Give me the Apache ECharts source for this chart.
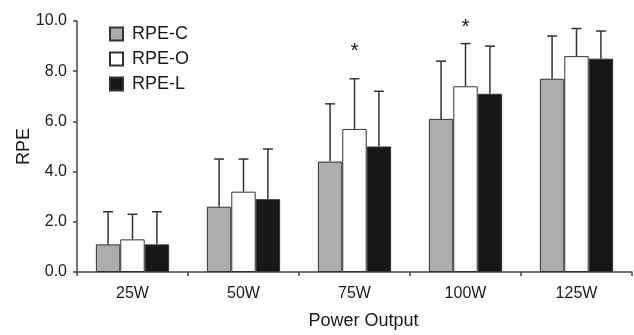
<!DOCTYPE html>
<html>
<head>
<meta charset="utf-8">
<script src="https://cdn.jsdelivr.net/npm/echarts@6/dist/echarts.min.js"></script>
<style>
  html, body { margin: 0; padding: 0; background: #fff; }
  #chart { width: 634px; height: 335px; }
</style>
</head>
<body>
<div id="chart"></div>
<script>
// RPE by power output, three rating conditions; bars = mean, whiskers = +SD.
const categories = ["25W", "50W", "75W", "100W", "125W"];
const seriesNames = ["RPE-C", "RPE-O", "RPE-L"];
const rpeC = [1.1, 2.6, 4.4, 6.1, 7.7];
const rpeO = [1.3, 3.2, 5.7, 7.4, 8.6];
const rpeL = [1.1, 2.9, 5.0, 7.1, 8.5];
// top of each error bar (mean + SD)
const rpeCTop = [2.4, 4.5, 6.7, 8.4, 9.4];
const rpeOTop = [2.3, 4.5, 7.7, 9.1, 9.7];
const rpeLTop = [2.4, 4.9, 7.2, 9.0, 9.6];
// significance markers above RPE-O (category index, height)
const stars = [[2, 8.8], [3, 9.75]];

const COLORS = ["#acacac", "#ffffff", "#171717"];
const EDGE = "#333";
const FONT = "'Liberation Sans', Arial, sans-serif";
const CAT_GAP = 0.34;

const means = [rpeC, rpeO, rpeL];
const tops = [rpeCTop, rpeOTop, rpeLTop];

const errData = [];
means.forEach((m, s) =>
  m.forEach((v, i) => errData.push([i, s, tops[s][i], v]))
);

const chart = echarts.init(document.getElementById("chart"));

chart.setOption({
  animation: false,
  textStyle: { fontFamily: FONT },
  grid: { left: 77, right: 2, top: 21, bottom: 59 },
  legend: {
    orient: "vertical",
    left: 104,
    top: 20,
    itemWidth: 13,
    itemHeight: 13,
    itemGap: 7,
    icon: "rect",
    data: seriesNames,
    textStyle: { fontSize: 18, color: "#1a1a1a", padding: [0, 0, 0, 4] },
  },
  xAxis: {
    type: "category",
    data: categories,
    name: "Power Output",
    nameLocation: "middle",
    nameGap: 40,
    nameMoveOverlap: false,
    nameTextStyle: { fontSize: 18, color: "#1a1a1a", padding: [0, 0, 0, 18] },
    axisLine: { lineStyle: { color: "#444", width: 1.5 } },
    axisTick: { show: true, length: 4, lineStyle: { color: "#444", width: 1.5 } },
    axisLabel: { fontSize: 16, color: "#1a1a1a", margin: 14 },
  },
  yAxis: {
    type: "value",
    min: 0,
    max: 10,
    interval: 2,
    name: "RPE",
    nameLocation: "middle",
    nameGap: 44,
    nameMoveOverlap: false,
    nameTextStyle: { fontSize: 18, color: "#1a1a1a" },
    axisLine: { show: true, lineStyle: { color: "#444", width: 1.5 } },
    axisTick: { show: true, length: 4, lineStyle: { color: "#444", width: 1.5 } },
    axisLabel: {
      fontSize: 16,
      color: "#1a1a1a",
      margin: 10,
      formatter: (v) => v.toFixed(1),
    },
    splitLine: { show: false },
  },
  series: [
    ...means.map((m, s) => ({
      name: seriesNames[s],
      type: "bar",
      data: m,
      barGap: "0%",
      barCategoryGap: CAT_GAP * 100 + "%",
      itemStyle: { color: COLORS[s], borderColor: EDGE, borderWidth: 1 },
      z: 3,
    })),
    {
      // upward SD whiskers with caps
      type: "custom",
      data: errData,
      z: 2,
      renderItem: (params, api) => {
        const cat = api.value(0);
        const s = api.value(1);
        const top = api.coord([cat, api.value(2)]);
        const base = api.coord([cat, api.value(3)]);
        const barW = (api.size([1, 0])[0] * (1 - CAT_GAP)) / 3;
        const x = top[0] + (s - 1) * barW;
        const style = { stroke: EDGE, lineWidth: 1.5 };
        return {
          type: "group",
          children: [
            { type: "line", shape: { x1: x, y1: base[1], x2: x, y2: top[1] }, style },
            { type: "line", shape: { x1: x - 5, y1: top[1], x2: x + 5, y2: top[1] }, style },
          ],
        };
      },
    },
    {
      type: "custom",
      data: stars,
      renderItem: (params, api) => {
        const p = api.coord([api.value(0), api.value(1)]);
        return {
          type: "text",
          style: {
            text: "*",
            x: p[0],
            y: p[1],
            align: "center",
            verticalAlign: "middle",
            font: "21px " + FONT,
            fill: "#1a1a1a",
          },
        };
      },
    },
  ],
});
</script>
</body>
</html>
